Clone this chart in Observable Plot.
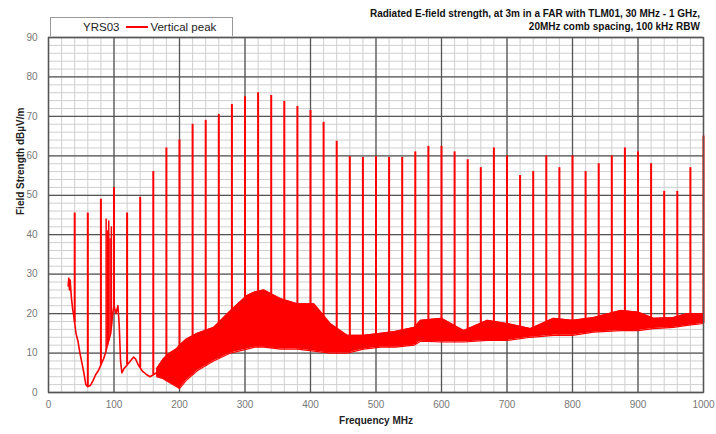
<!DOCTYPE html>
<html>
<head>
<meta charset="utf-8">
<script src="https://cdn.jsdelivr.net/npm/d3@7"></script>
<script src="https://cdn.jsdelivr.net/npm/@observablehq/plot@0.6"></script>
<style>
  html, body { margin: 0; padding: 0; background: #fff; }
  #wrap { position: relative; width: 716px; height: 434px; font-family: "Liberation Sans", Arial, sans-serif; }
  #title { position: absolute; right: 16px; top: 7px; text-align: right; font-size: 10px; font-weight: bold; line-height: 13px; color: #111; }
  #legend { position: absolute; left: 50px; top: 17px; width: 181px; height: 18px; border: 1px solid #999; border-bottom: none; background: #fff; font-size: 11.5px; color: #222; display: flex; align-items: center; }
  #legend .name { margin-left: 32px; }
  #legend .swatch { display: inline-block; width: 22px; height: 2px; background: #ff0000; margin: 0 2px 0 7px; }
</style>
</head>
<body>
<div id="wrap">
  <div id="chart"></div>
  <div id="title">Radiated E-field strength, at 3m in a FAR with TLM01, 30 MHz - 1 GHz,<br>20MHz comb spacing, 100 kHz RBW</div>
  <div id="legend"><span class="name">YRS03</span><span class="swatch"></span><span>Vertical peak</span></div>
</div>
<script>
// Tick labels
const xTicks = [0, 100, 200, 300, 400, 500, 600, 700, 800, 900, 1000];
const yTicks = [0, 10, 20, 30, 40, 50, 60, 70, 80, 90];

// Comb spikes (MHz, peak dBµV/m)
const combFreq = [40, 60, 80, 100, 120, 140, 160, 180, 200, 220, 240, 260, 280, 300, 320, 340, 360, 380, 400, 420, 440, 460, 480, 500, 520, 540, 560, 580, 600, 620, 640, 660, 680, 700, 720, 740, 760, 780, 800, 820, 840, 860, 880, 900, 920, 940, 960, 980, 1000];
const combPeak = [45.5, 45.5, 49, 52, 45.5, 49.5, 56, 62, 64, 68, 69, 70.5, 73, 75, 76, 75.3, 73.8, 72.5, 71.5, 68.5, 63.7, 59.8, 59.6, 59.8, 59.6, 59.6, 61, 62.4, 62.4, 61, 59, 57, 62, 60, 55, 56, 60, 57, 60, 56, 58, 60, 62, 61, 58, 51, 51, 57, 65];

// FM broadcast band bursts
const fmFreq = [88, 90, 92, 94, 96];
const fmPeak = [44, 41, 43.5, 39, 42];

// Low-frequency single trace (MHz, dBµV/m)
const lowFreq = [30, 31, 32, 33, 35, 37, 39, 42, 45, 48, 51, 54, 57, 60, 64, 68, 72, 76, 80, 84, 87, 90, 95, 98, 100, 103, 106, 108, 110, 112, 115, 120, 125, 130, 133, 137, 143, 150, 155, 160, 165];
const lowLevel = [27, 29, 26, 28.5, 24, 21, 19, 15, 13, 10, 7.5, 5, 2, 1.5, 1.8, 3, 4.5, 5.5, 7, 8.5, 10, 12, 15, 20, 22, 20, 22, 17, 8, 5, 6, 7, 8, 9, 8.5, 7, 5.5, 4.5, 4, 4.5, 5];

// Noise band envelope above ~165 MHz
const bandFreq = [165, 175, 185, 195, 200, 210, 227, 252, 278, 303, 315, 329, 354, 380, 405, 430, 456, 481, 507, 530, 558, 568, 600, 634, 670, 700, 736, 771, 800, 832, 873, 900, 924, 954, 975, 1000];
const bandLow  = [4, 3.5, 2.5, 1.5, 1, 3, 5.5, 8, 10, 11, 11.5, 11.5, 11, 11, 10.5, 10, 10, 11, 11.5, 11.5, 12, 13, 12.8, 12.8, 13.2, 13.2, 14, 14.5, 14.5, 15.3, 15.7, 15.7, 16.2, 16.5, 17, 17.5];
const bandHigh = [6, 8.5, 10, 11, 12, 13.5, 15, 16.5, 20.8, 24.6, 25.5, 26, 23.8, 22.5, 22.5, 17.5, 14.5, 14.5, 15, 15.5, 16.5, 18.3, 18.8, 15.7, 18.3, 17.5, 16.2, 18.8, 18.3, 19, 20.8, 20.4, 18.8, 19, 20, 20];

const low = lowFreq.map((f, i) => ({f, v: lowLevel[i]}));
const band = bandFreq.map((f, i) => ({f, lo: bandLow[i], hi: bandHigh[i]}));

// floor (for the base of each spike) from the read trace
const floorF = lowFreq.concat(bandFreq.slice(1));
const floorV = lowLevel.concat(bandLow.slice(1));
function floorAt(f) {
  for (let i = 1; i < floorF.length; i++) {
    if (f <= floorF[i]) {
      const t = (f - floorF[i-1]) / (floorF[i] - floorF[i-1]);
      return floorV[i-1] + t * (floorV[i] - floorV[i-1]);
    }
  }
  return floorV[floorV.length - 1];
}
const comb = combFreq.map((f, i) => ({f, top: combPeak[i], base: floorAt(f)}));
const fm = fmFreq.map((f, i) => ({f, top: fmPeak[i], base: floorAt(f)}));

const xMinor = d3.range(0, 1001, 20);
const yMinor = d3.range(0, 91, 2);

const red = "#ff0000";
const fmt = d => String(d);
const chart = Plot.plot({
  width: 716,
  height: 434,
  marginLeft: 48,
  marginRight: 13,
  marginTop: 37,
  marginBottom: 42,
  style: {fontFamily: "Liberation Sans, Arial, sans-serif", fontSize: "10px", background: "#fff"},
  x: {domain: [0, 1000], ticks: xTicks, tickFormat: fmt, tickSize: 0, tickPadding: 8, label: null},
  y: {domain: [0, 90], ticks: yTicks, tickFormat: fmt, tickSize: 0, tickPadding: 11, label: null},
  marks: [
    Plot.ruleX(xMinor, {stroke: "#cfcfcf", strokeWidth: 1}),
    Plot.ruleY(yMinor, {stroke: "#cfcfcf", strokeWidth: 1}),
    Plot.ruleX(xTicks, {stroke: "#555", strokeWidth: 1.3}),
    Plot.ruleY(yTicks, {stroke: "#555", strokeWidth: 1.3}),
    Plot.areaY(band, {x: "f", y1: "lo", y2: "hi", fill: red, fillOpacity: 1}),
    Plot.line(band, {x: "f", y: "hi", stroke: red, strokeWidth: 1.2}),
    Plot.line(band, {x: "f", y: "lo", stroke: red, strokeWidth: 1.2}),
    Plot.line(low, {x: "f", y: "v", stroke: red, strokeWidth: 1.6}),
    Plot.ruleX(fm, {x: "f", y1: "base", y2: "top", stroke: red, strokeWidth: 1.5}),
    Plot.ruleX(comb, {x: "f", y1: "base", y2: "top", stroke: red, strokeWidth: 2}),
    Plot.axisX({ticks: xTicks, tickFormat: fmt, tickSize: 0, tickPadding: 8, fill: "#777", fontSize: 10}),
    Plot.axisY({ticks: yTicks, tickFormat: fmt, tickSize: 0, tickPadding: 11, fill: "#777", fontSize: 10}),
    Plot.text(["Frequency MHz"], {frameAnchor: "bottom", dy: 31, fontWeight: "bold", fontSize: 10, fill: "#222"}),
    Plot.text(["Field Strength dBµV/m"], {frameAnchor: "left", dx: -28, rotate: -90, fontWeight: "bold", fontSize: 10, fill: "#222"}),
    Plot.frame({stroke: "#555", strokeWidth: 1.3})
  ]
});
document.getElementById("chart").appendChild(chart);
</script>
</body>
</html>
